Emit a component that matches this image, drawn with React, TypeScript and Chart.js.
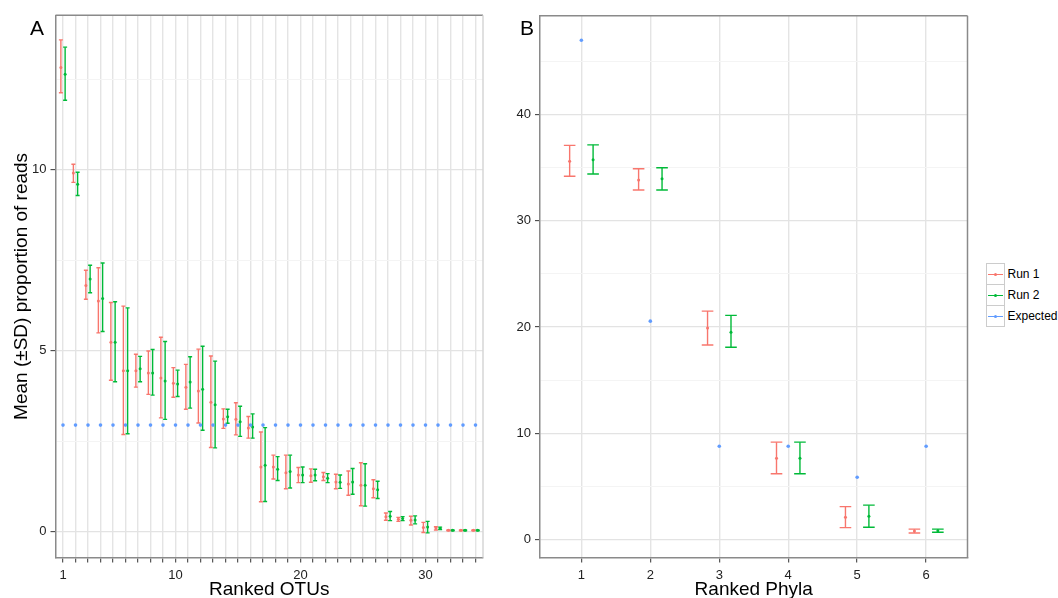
import React, { useEffect, useRef } from "react";
import { Chart, registerables } from "chart.js";
Chart.register(...registerables);

const FONT = "'Liberation Sans', Arial, Helvetica, sans-serif";
const RED = "#F8766D";
const GREEN = "#00BA38";
const BLUE = "#619CFF";
const TICK_COLOR = "#222222";
const BORDER = "#8a8a8a";

// ---------- Panel A : ranked OTUs ----------
const otuRanks = [1, 2, 3, 4, 5, 6, 7, 8, 9, 10, 11, 12, 13, 14, 15, 16, 17, 18, 19, 20, 21, 22, 23, 24, 25, 26, 27, 28, 29, 30, 31, 32, 33, 34];
const run1MeanA = [12.83, 9.91, 6.8, 6.37, 5.23, 4.44, 4.44, 4.38, 4.24, 4.1, 3.99, 3.88, 3.57, 3.11, 3.1, 2.86, 1.78, 1.78, 1.62, 1.56, 1.54, 1.51, 1.37, 1.31, 1.28, 1.18, 0.41, 0.34, 0.31, 0.11, 0.1, 0.03, 0.03, 0.03];
const run1LowA = [12.13, 9.65, 6.42, 5.49, 4.18, 2.68, 3.99, 3.79, 3.14, 3.71, 3.38, 3.0, 2.32, 2.85, 2.67, 2.58, 0.82, 1.45, 1.18, 1.35, 1.36, 1.41, 1.18, 1.0, 0.71, 0.93, 0.31, 0.28, 0.18, -0.03, 0.04, 0.02, 0.02, 0.02];
const run1HighA = [13.59, 10.15, 7.22, 7.29, 6.33, 6.23, 4.9, 4.99, 5.37, 4.53, 4.62, 5.04, 4.85, 3.39, 3.56, 3.18, 2.75, 2.11, 2.11, 1.77, 1.73, 1.63, 1.58, 1.67, 1.9, 1.43, 0.51, 0.39, 0.42, 0.25, 0.13, 0.04, 0.04, 0.04];
const run2MeanA = [12.64, 9.6, 6.98, 6.44, 5.23, 4.44, 4.5, 4.38, 4.16, 4.08, 4.13, 3.93, 3.5, 3.17, 3.03, 2.89, 1.83, 1.72, 1.66, 1.56, 1.56, 1.47, 1.36, 1.37, 1.28, 1.15, 0.42, 0.36, 0.32, 0.12, 0.09, 0.03, 0.03, 0.03];
const run2LowA = [11.92, 9.29, 6.6, 5.53, 4.14, 2.7, 4.14, 3.77, 3.1, 3.73, 3.41, 2.8, 2.31, 2.99, 2.63, 2.58, 0.83, 1.41, 1.2, 1.35, 1.4, 1.35, 1.19, 1.03, 0.7, 0.91, 0.3, 0.3, 0.21, -0.04, 0.05, 0.02, 0.02, 0.02];
const run2HighA = [13.39, 9.93, 7.36, 7.42, 6.35, 6.18, 4.84, 5.03, 5.25, 4.46, 4.83, 5.12, 4.71, 3.38, 3.46, 3.25, 2.87, 2.07, 2.11, 1.78, 1.72, 1.6, 1.56, 1.74, 1.87, 1.39, 0.55, 0.41, 0.43, 0.28, 0.12, 0.04, 0.04, 0.04];
const expectedA = [2.94, 2.94, 2.94, 2.94, 2.94, 2.94, 2.94, 2.94, 2.94, 2.94, 2.94, 2.94, 2.94, 2.94, 2.94, 2.94, 2.94, 2.94, 2.94, 2.94, 2.94, 2.94, 2.94, 2.94, 2.94, 2.94, 2.94, 2.94, 2.94, 2.94, 2.94, 2.94, 2.94, 2.94];
const xLabelsA = [1, 10, 20, 30];
const yTicksA = [0, 2.5, 5, 7.5, 10, 12.5];
const yLabelsA = [0, 5, 10];

// ---------- Panel B : ranked phyla ----------
const phylaRanks = [1, 2, 3, 4, 5, 6];
const run1MeanB = [35.6, 33.85, 19.9, 7.65, 2.08, 0.79];
const run1LowB = [34.2, 32.9, 18.3, 6.18, 1.11, 0.61];
const run1HighB = [37.1, 34.9, 21.5, 9.16, 3.09, 0.97];
const run2MeanB = [35.75, 33.95, 19.5, 7.65, 2.19, 0.83];
const run2LowB = [34.4, 32.9, 18.1, 6.18, 1.15, 0.68];
const run2HighB = [37.15, 35.0, 21.1, 9.16, 3.23, 0.97];
const expectedB = [47.0, 20.55, 8.77, 8.77, 5.86, 8.77];
const xLabelsB = [1, 2, 3, 4, 5, 6];
const yTicksB = [0, 5, 10, 15, 20, 25, 30, 35, 40, 45];
const yLabelsB = [0, 10, 20, 30, 40];

const seriesNames = ["Run 1", "Run 2", "Expected"];
const seriesColors = [RED, GREEN, BLUE];

type Pt = { x: number; y: number | null };

function whiskerData(xs: number[], lo: number[], hi: number[], off: number): Pt[] {
  const d: Pt[] = [];
  xs.forEach((x, i) => {
    d.push({ x: x + off, y: lo[i] }, { x: x + off, y: hi[i] }, { x: x + off, y: null });
  });
  return d;
}
function pointData(xs: number[], ys: number[], off: number): Pt[] {
  return xs.map((x, i) => ({ x: x + off, y: ys[i] }));
}

const panelBorder = {
  id: "panelBorder",
  afterDatasetsDraw(chart: any, _args: any, opts: any) {
    const { ctx, chartArea } = chart;
    const { left, right, top, bottom } = chartArea;
    ctx.save();
    ctx.lineWidth = 1.5;
    ctx.strokeStyle = opts.topColor || BORDER;
    ctx.beginPath();
    ctx.moveTo(left, top);
    ctx.lineTo(right, top);
    ctx.stroke();
    ctx.strokeStyle = opts.rightColor || BORDER;
    ctx.beginPath();
    ctx.moveTo(right, top);
    ctx.lineTo(right, bottom);
    ctx.stroke();
    ctx.restore();
  },
};

type Spec = {
  xs: number[];
  r1: [number[], number[], number[]];
  r2: [number[], number[], number[]];
  exp: number[];
  xMin: number; xMax: number; yMin: number; yMax: number;
  xLabels: number[]; yTicks: number[]; yLabels: number[];
  cap: number; dodge: number;
  padTop: number; padRight: number; yAxisW: number; xAxisH: number;
  xTitle: string; yTitle: string | null; rightColor: string;
};

function makeConfig(s: Spec): any {
  const major = (v: number) => s.yLabels.includes(v);
  return {
    type: "scatter",
    data: {
      datasets: [
        {
          label: "Expected",
          data: pointData(s.xs, s.exp, 0),
          pointRadius: 1.8,
          pointBackgroundColor: BLUE,
          pointBorderWidth: 0,
          showLine: false,
          order: 1,
        },
        {
          label: "Run 1",
          data: pointData(s.xs, s.r1[1], -s.dodge),
          pointRadius: 1.5,
          pointBackgroundColor: RED,
          pointBorderWidth: 0,
          showLine: false,
          order: 2,
        },
        {
          label: "Run 2",
          data: pointData(s.xs, s.r2[1], s.dodge),
          pointRadius: 1.5,
          pointBackgroundColor: GREEN,
          pointBorderWidth: 0,
          showLine: false,
          order: 3,
        },
        {
          label: "Run 1 SD",
          data: whiskerData(s.xs, s.r1[0], s.r1[2], -s.dodge),
          showLine: true,
          spanGaps: false,
          borderColor: RED,
          borderWidth: 1.4,
          pointStyle: "line",
          pointRadius: s.cap,
          pointBorderColor: RED,
          pointBorderWidth: 1.4,
          order: 4,
        },
        {
          label: "Run 2 SD",
          data: whiskerData(s.xs, s.r2[0], s.r2[2], s.dodge),
          showLine: true,
          spanGaps: false,
          borderColor: GREEN,
          borderWidth: 1.4,
          pointStyle: "line",
          pointRadius: s.cap,
          pointBorderColor: GREEN,
          pointBorderWidth: 1.4,
          order: 5,
        },
      ],
    },
    options: {
      animation: false,
      responsive: false,
      events: [],
      layout: { padding: { top: s.padTop, right: s.padRight, left: 0, bottom: 0 } },
      plugins: {
        legend: { display: false },
        tooltip: { enabled: false },
        panelBorder: { topColor: BORDER, rightColor: s.rightColor },
      },
      scales: {
        x: {
          type: "linear",
          min: s.xMin,
          max: s.xMax,
          afterBuildTicks: (sc: any) => {
            sc.ticks = s.xs.map((v) => ({ value: v }));
          },
          afterFit: (sc: any) => {
            sc.height = s.xAxisH;
          },
          ticks: {
            autoSkip: false,
            maxRotation: 0,
            minRotation: 0,
            padding: 5.5,
            color: TICK_COLOR,
            font: { family: FONT, size: 13 },
            callback: (v: number) => (s.xLabels.includes(v) ? String(v) : ""),
          },
          grid: {
            color: "#e4e4e4",
            lineWidth: 1.4,
            tickLength: 5,
            tickColor: "#333333",
            tickWidth: 1,
          },
          border: { display: true, color: BORDER, width: 1.5 },
          title: {
            display: true,
            text: s.xTitle,
            color: "#000",
            font: { family: FONT, size: 19, lineHeight: 1 },
            padding: { top: 0, bottom: -1.5 },
          },
        },
        y: {
          type: "linear",
          min: s.yMin,
          max: s.yMax,
          afterBuildTicks: (sc: any) => {
            sc.ticks = s.yTicks.map((v) => ({ value: v }));
          },
          afterFit: (sc: any) => {
            sc.width = s.yAxisW;
          },
          ticks: {
            autoSkip: false,
            padding: 4,
            color: TICK_COLOR,
            font: { family: FONT, size: 13 },
            callback: (v: number) => (major(v) ? String(v) : ""),
          },
          grid: {
            color: (c: any) => (c.tick && major(c.tick.value) ? "#e3e3e3" : "#f4f4f4"),
            lineWidth: (c: any) => (c.tick && major(c.tick.value) ? 1.3 : 1),
            tickLength: 5,
            tickColor: (c: any) => (c.tick && major(c.tick.value) ? "#333333" : "rgba(0,0,0,0)"),
            tickWidth: 1,
          },
          border: { display: true, color: BORDER, width: 1.5 },
          title: {
            display: !!s.yTitle,
            text: s.yTitle || "",
            color: "#000",
            font: { family: FONT, size: 19, lineHeight: 1 },
            padding: { top: 12, bottom: 0 },
          },
        },
      },
    },
    plugins: [panelBorder],
  };
}

const specA: Spec = {
  xs: otuRanks,
  r1: [run1LowA, run1MeanA, run1HighA],
  r2: [run2LowA, run2MeanA, run2HighA],
  exp: expectedA,
  xMin: 0.4, xMax: 34.6, yMin: -0.72, yMax: 14.27,
  xLabels: xLabelsA, yTicks: yTicksA, yLabels: yLabelsA,
  cap: 2, dodge: 0.17,
  padTop: 15.3, padRight: 17, yAxisW: 55.5, xAxisH: 40.5,
  xTitle: "Ranked OTUs", yTitle: "Mean (±SD) proportion of reads", rightColor: "#d6d6d6",
};

const specB: Spec = {
  xs: phylaRanks,
  r1: [run1LowB, run1MeanB, run1HighB],
  r2: [run2LowB, run2MeanB, run2HighB],
  exp: expectedB,
  xMin: 0.4, xMax: 6.6, yMin: -1.7, yMax: 49.3,
  xLabels: xLabelsB, yTicks: yTicksB, yLabels: yLabelsB,
  cap: 5.8, dodge: 0.17,
  padTop: 15.8, padRight: 12.5, yAxisW: 40, xAxisH: 40.5,
  xTitle: "Ranked Phyla", yTitle: null, rightColor: BORDER,
};

function Panel({ spec, left, width }: { spec: Spec; left: number; width: number }) {
  const ref = useRef<HTMLCanvasElement | null>(null);
  useEffect(() => {
    if (!ref.current) return;
    const chart = new Chart(ref.current, makeConfig(spec));
    return () => chart.destroy();
  }, [spec]);
  return (
    <div style={{ position: "absolute", left, top: 0, width, height: 598 }}>
      <canvas ref={ref} width={width} height={598} style={{ display: "block", width, height: 598 }} />
    </div>
  );
}

export default function App() {
  return (
    <div
      style={{
        position: "absolute",
        left: 0,
        top: 0,
        width: 1058,
        height: 598,
        overflow: "hidden",
        background: "#fff",
        fontFamily: FONT,
      }}
    >
      <Panel spec={specA} left={0} width={500} />
      <Panel spec={specB} left={500} width={480} />
      <div style={{ position: "absolute", left: 30, top: 16.7, fontSize: 21, lineHeight: "21px", color: "#000" }}>A</div>
      <div style={{ position: "absolute", left: 520, top: 16.7, fontSize: 21, lineHeight: "21px", color: "#000" }}>B</div>
      <div style={{ position: "absolute", left: 985.5, top: 263 }}>
        {seriesNames.map((name, i) => (
          <div key={name} style={{ position: "relative", height: 21, width: 80 }}>
            <div
              style={{
                position: "absolute",
                left: 0,
                top: 0,
                width: 17,
                height: 20,
                border: "1px solid #cccccc",
                background: "#fff",
              }}
            >
              <div style={{ position: "absolute", left: 1, right: 1, top: 9.5, height: 1.3, background: seriesColors[i] }} />
              <div
                style={{
                  position: "absolute",
                  left: 7,
                  top: 8.5,
                  width: 3.2,
                  height: 3.2,
                  borderRadius: "50%",
                  background: seriesColors[i],
                }}
              />
            </div>
            <div style={{ position: "absolute", left: 22, top: 3.5, fontSize: 12, lineHeight: "14px", color: "#000", whiteSpace: "nowrap" }}>
              {name}
            </div>
          </div>
        ))}
      </div>
    </div>
  );
}
